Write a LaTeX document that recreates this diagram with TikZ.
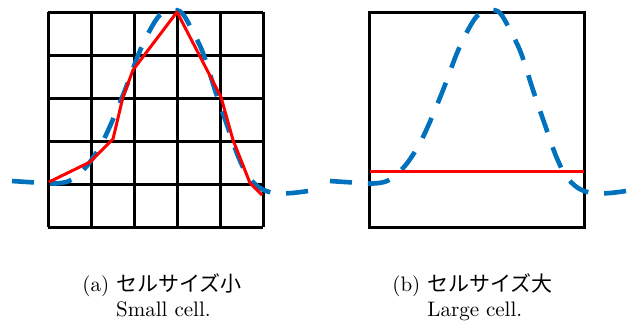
\documentclass[tikz,border=0pt]{standalone}
\usepackage{fontspec}
\newfontfamily\cjk{Noto Sans CJK JP}
\usepackage{xcolor}
\usepackage{tikz}
\usetikzlibrary{positioning}
\definecolor{curveblue}{RGB}{0,114,189}
\tikzset{
  cellgrid/.style={draw=black, line width=1.5pt},
  truecurve/.style={draw=curveblue, line width=2.3pt, dash pattern=on 11pt off 8pt},
  approxline/.style={draw=red, line width=1.5pt, line join=round},
  captext/.style={inner sep=0pt, align=left, anchor=base west, font=\fontsize{10.5}{12.5}\selectfont},
}
% the dashed bell curve, drawn for the right panel
\newcommand\bellcurve{plot[smooth, tension=0.55] coordinates {
  (330,181) (353,182.5) (373,183.5) (387,181) (398,173) (408,162) (420,143)
  (432,117) (445,85) (457,53) (468,30) (478,15) (490,10) (500,13) (510,30)
  (521,53) (533,90) (545,125) (556,156) (566,176) (578,188) (592,193)
  (610,193) (633,190)}}

\begin{document}
\begin{tikzpicture}[x=0.5pt, y=-0.5pt]
  \useasboundingbox (0,0) rectangle (638,329);

  % (a) small cells
  \foreach \k in {0,...,5} {
    \draw[cellgrid] ({48+43*\k},12) -- ({48+43*\k},227);
    \draw[cellgrid] (48,{12+43*\k}) -- (263,{12+43*\k});
  }
  \begin{scope}[xshift=-159pt]
    \draw[truecurve] \bellcurve;
  \end{scope}
  \draw[approxline] (49,182) -- (90,162) -- (113,139) -- (123,97) -- (133,70)
    -- (177,12) -- (221,97) -- (233,140) -- (250,183) -- (262,195);

  % (b) one large cell
  \draw[cellgrid] (369,12) rectangle (584,227);
  \draw[truecurve] \bellcurve;
  \draw[approxline] (370,171) -- (584,171);

  % captions
  \node[captext] (capa) at (82,291)
    {(a)~\begin{tabular}[t]{@{}l@{}}{\cjk セルサイズ小}\\Small cell.\end{tabular}};
  \node[captext] (capb) at (392,291)
    {(b)~\begin{tabular}[t]{@{}l@{}}{\cjk セルサイズ大}\\Large cell.\end{tabular}};
\end{tikzpicture}
\end{document}
